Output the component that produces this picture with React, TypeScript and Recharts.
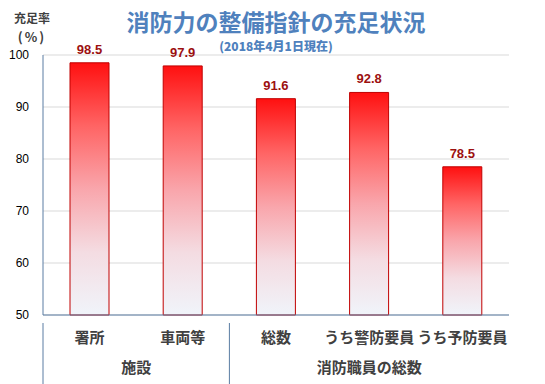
import { BarChart, Bar, XAxis, YAxis, CartesianGrid, LabelList } from "recharts"

const categories = ["署所", "車両等", "総数", "うち警防要員", "うち予防要員"]
const groups = ["施設", "施設", "消防職員の総数", "消防職員の総数", "消防職員の総数"]
const rates = [98.5, 97.9, 91.6, 92.8, 78.5]
const yTicks = [50, 60, 70, 80, 90, 100]

const data = categories.map((name, i) => ({ name, group: groups[i], rate: rates[i] }))

const JP = "'Noto Sans CJK JP', sans-serif"
const AXIS = "#5a7da3"
const BAND = 466 / categories.length

const CategoryTick = ({ x, y, payload }: any) => (
  <text x={x} y={y + 20} textAnchor="middle" fontFamily={JP} fontWeight="bold" fontSize={15} fill="#404040">
    {payload.value}
  </text>
)

const GroupTick = ({ x, y, index }: any) => {
  // group label sits in the middle of its span, separator at the group start
  if (index === 0) {
    return (
      <g>
        <line x1={x - BAND / 2} y1={y - 35} x2={x - BAND / 2} y2={y + 28} stroke={AXIS} strokeWidth={1} />
        <text x={x + BAND / 2} y={y + 15} textAnchor="middle" fontFamily={JP} fontWeight="bold" fontSize={15} fill="#404040">
          {groups[0]}
        </text>
      </g>
    )
  }
  if (index === 2) {
    return (
      <g>
        <line x1={x - BAND / 2} y1={y - 35} x2={x - BAND / 2} y2={y + 28} stroke={AXIS} strokeWidth={1} />
        <text x={x + BAND} y={y + 15} textAnchor="middle" fontFamily={JP} fontWeight="bold" fontSize={15} fill="#404040">
          {groups[2]}
        </text>
      </g>
    )
  }
  return <g />
}

export default function App() {
  return (
    <div style={{ position: "relative", width: 545, height: 384, background: "#fff" }}>
      <style>{`body{margin:0}`}</style>
      <BarChart width={545} height={384} data={data} margin={{ top: 55, right: 36, left: 0, bottom: 0 }}>
        <defs>
          <linearGradient id="redFade" x1="0" y1="0" x2="0" y2="1">
            <stop offset="0%" stopColor="#ff1010" />
            <stop offset="25%" stopColor="#ff6464" />
            <stop offset="50%" stopColor="#f9a6ac" />
            <stop offset="75%" stopColor="#f4dce2" />
            <stop offset="100%" stopColor="#f0f4fa" />
          </linearGradient>
        </defs>
        <text x={276} y={31} textAnchor="middle" fontFamily={JP} fontWeight="bold" fontSize={23} fill="#4f81bd">
          消防力の整備指針の充足状況
        </text>
        <text x={276} y={51} textAnchor="middle" fontFamily={JP} fontWeight="900" fontSize={12} fill="#4f81bd">
          (2018年4月1日現在)
        </text>
        <text x={32} y={23} textAnchor="middle" fontFamily={JP} fontWeight="bold" fontSize={12} fill="#404040">
          充足率
        </text>
        <text x={32} y={42} textAnchor="middle" fontFamily={JP} fontWeight="bold" fontSize={13} fill="#404040" letterSpacing={2}>
          (%)
        </text>
        <CartesianGrid vertical={false} stroke="#d9d9d9" />
        <XAxis
          dataKey="name"
          interval={0}
          height={35}
          tickLine={false}
          axisLine={{ stroke: AXIS }}
          tick={<CategoryTick />}
        />
        <XAxis
          dataKey="name"
          xAxisId="group"
          interval={0}
          height={34}
          tickLine={false}
          axisLine={false}
          tick={<GroupTick />}
        />
        <YAxis
          domain={[50, 100]}
          ticks={yTicks}
          width={43}
          tickLine={false}
          axisLine={{ stroke: AXIS }}
          tick={{ fontSize: 12, fill: "#000", fontFamily: "'Liberation Sans', sans-serif" }}
          tickMargin={8}
        />
        <Bar dataKey="rate" barSize={39} fill="url(#redFade)" stroke="#c00000" strokeWidth={1} isAnimationActive={false}>
          <LabelList
            dataKey="rate"
            position="top"
            offset={9}
            fill="#9c1010"
            fontSize={13}
            fontWeight="bold"
            fontFamily="'Liberation Sans', sans-serif"
          />
        </Bar>
      </BarChart>
    </div>
  )
}
